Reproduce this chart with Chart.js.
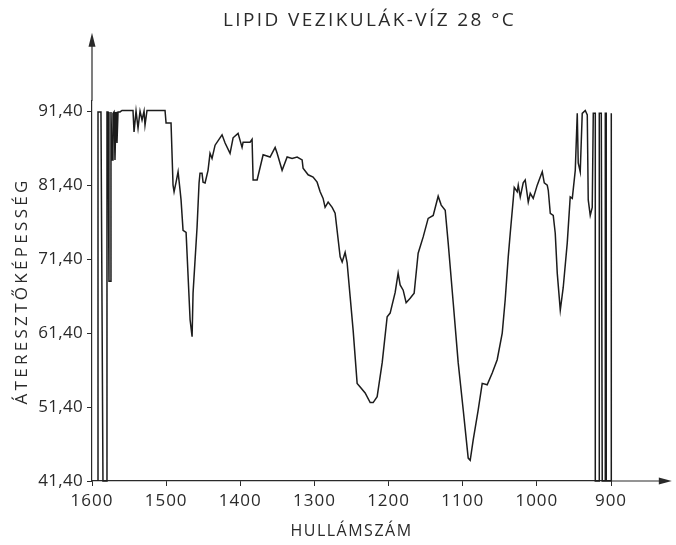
<!DOCTYPE html>
<html>
<head>
<meta charset="utf-8">
<script src="https://cdn.jsdelivr.net/npm/chart.js@4/dist/chart.umd.min.js"></script>
<style>
  html, body { margin: 0; padding: 0; background: #ffffff; }
  #wrap { width: 676px; height: 545px; position: relative; }
</style>
</head>
<body>
<div id="wrap"><canvas id="c"></canvas></div>
<script>
// ---- data ----
const wavenumber = [
  1591.9, 1591.9, 1587.9, 1585.2, 1581.1, 1579.8, 1578.4, 1577.1, 1575.7, 1574.4,
  1573.0, 1571.7, 1570.3, 1569.0, 1567.6, 1566.3, 1564.9, 1562.2, 1559.5, 1544.7,
  1543.3, 1540.6, 1537.9, 1535.2, 1532.5, 1529.8, 1528.5, 1525.8, 1501.5, 1500.1,
  1493.4, 1490.7, 1489.3, 1486.6, 1483.9, 1481.2, 1479.9, 1477.2, 1473.1, 1467.7,
  1465.0, 1463.7, 1458.3, 1455.6, 1454.3, 1451.6, 1450.2, 1447.5, 1443.5, 1440.8,
  1438.1, 1434.0, 1424.6, 1420.5, 1413.8, 1409.7, 1403.0, 1397.6, 1396.2, 1386.8,
  1384.1, 1382.7, 1377.3, 1369.2, 1359.8, 1353.0, 1350.3, 1343.6, 1336.8, 1330.1,
  1323.3, 1316.6, 1315.3, 1308.5, 1301.8, 1296.4, 1292.3, 1288.3, 1285.6, 1281.5,
  1276.1, 1272.1, 1265.3, 1262.6, 1258.6, 1255.9, 1251.8, 1247.8, 1242.4, 1238.3,
  1231.6, 1224.8, 1220.8, 1215.4, 1208.6, 1201.9, 1197.9, 1191.1, 1187.1, 1184.4,
  1180.3, 1176.3, 1170.9, 1165.5, 1164.1, 1160.1, 1153.3, 1146.6, 1139.8, 1133.1,
  1129.0, 1123.6, 1119.6, 1112.8, 1106.1, 1099.3, 1092.6, 1089.9, 1085.8, 1079.1,
  1073.7, 1067.0, 1060.2, 1053.5, 1046.7, 1042.7, 1038.6, 1035.9, 1031.9, 1030.5,
  1026.5, 1025.1, 1022.4, 1018.4, 1015.7, 1011.6, 1008.9, 1004.9, 999.5, 995.4,
  992.7, 990.0, 986.0, 984.6, 981.9, 977.9, 975.2, 972.5, 968.4, 964.4,
  959.0, 955.0, 952.2, 948.2, 945.5, 944.2, 941.5, 938.8, 934.7, 932.0,
  930.7, 928.0, 925.3, 923.9, 921.2, 921.2, 915.8, 915.8, 913.1, 911.8,
  907.7, 907.7, 906.4, 906.4, 899.6, 899.6
];
const transmittance = [
  41.4, 91.3, 91.3, 41.4, 41.4, 91.3, 91.3, 68.4, 68.4, 91.3,
  84.8, 91.1, 91.3, 84.8, 91.3, 87.1, 91.3, 91.3, 91.5, 91.5,
  88.6, 91.4, 89.1, 91.4, 90.2, 91.4, 89.5, 91.5, 91.5, 89.8,
  89.8, 81.4, 80.5, 81.8, 83.2, 80.7, 79.4, 75.3, 75.0, 63.2,
  60.9, 66.8, 75.7, 81.7, 83.0, 83.0, 81.8, 81.7, 83.4, 85.7,
  85.0, 86.8, 88.2, 87.1, 85.7, 87.8, 88.4, 86.5, 87.2, 87.2,
  87.6, 82.1, 82.1, 85.5, 85.2, 86.5, 85.7, 83.4, 85.2, 85.0,
  85.2, 84.8, 83.7, 82.8, 82.5, 81.8, 80.5, 79.6, 78.4, 79.1,
  78.4, 77.6, 71.7, 71.0, 72.3, 70.9, 66.3, 61.8, 54.6, 54.1,
  53.3, 52.0, 52.0, 52.8, 57.4, 63.6, 64.1, 66.9, 69.5, 67.9,
  67.2, 65.5, 66.1, 66.8, 68.2, 72.2, 74.4, 76.9, 77.3, 79.9,
  78.7, 78.0, 73.6, 65.5, 57.4, 51.0, 44.5, 44.2, 47.0, 51.0,
  54.6, 54.4, 56.0, 57.8, 61.4, 65.9, 71.7, 74.9, 79.4, 81.1,
  80.5, 81.4, 79.8, 81.7, 82.1, 79.1, 80.3, 79.6, 81.4, 82.5,
  83.2, 81.7, 81.4, 80.7, 77.6, 77.3, 74.9, 69.5, 64.5, 67.6,
  73.6, 79.8, 79.6, 83.4, 91.1, 84.4, 83.2, 91.1, 91.5, 90.9,
  79.4, 77.3, 78.4, 91.1, 91.1, 41.4, 41.4, 91.1, 91.1, 41.4,
  41.4, 91.1, 91.1, 41.4, 41.4, 91.1
];
const xTicks = [1600, 1500, 1400, 1300, 1200, 1100, 1000, 900];
const xTickLabels = ['1600', '1500', '1400', '1300', '1200', '1100', '1000', '900'];
const yTicks = [41.4, 51.4, 61.4, 71.4, 81.4, 91.4];
const yTickLabels = ['41,40', '51,40', '61,40', '71,40', '81,40', '91,40'];
const titleText = 'LIPID VEZIKULÁK-VÍZ 28 °C';
const xTitle = 'HULLÁMSZÁM';
const yTitle = 'ÁTERESZTŐKÉPESSÉG';
// axis ranges (arrow ends extend beyond the labelled range)
const xRange = [900, 1600];
const yRange = [41.4, 92.8];
const xArrowEnd = 818;
const yArrowEnd = 102;

// ---- styling ----
const ink = '#2a2a2a';
const fontFamily = "'Open Sans', 'DejaVu Sans', sans-serif";

const points = wavenumber.map((w, i) => ({ x: w, y: transmittance[i] }));

function withSpacing(obj, name, spacing) {
  if (!obj || !obj[name] || obj[name]._spaced) return;
  const orig = obj[name];
  const f = function (...args) {
    const c = this.ctx;
    const prev = c.letterSpacing;
    c.letterSpacing = spacing;
    const r = orig.apply(this, args);
    c.letterSpacing = prev || '0px';
    return r;
  };
  f._spaced = true;
  obj[name] = f;
}

const arrowPlugin = {
  id: 'axisArrows',
  beforeDraw(chart) {
    const ctx = chart.ctx;
    ctx.save();
    ctx.fillStyle = '#ffffff';
    ctx.fillRect(0, 0, chart.width, chart.height);
    ctx.restore();
  },
  afterLayout(chart) {
    if (chart.titleBlock) {
      chart.titleBlock.left += 18;
      chart.titleBlock.right += 18;
      withSpacing(chart.titleBlock, 'draw', '2.4px');
    }
    withSpacing(chart.scales.x, 'drawLabels', '1px');
    withSpacing(chart.scales.x, 'drawTitle', '1.5px');
    withSpacing(chart.scales.y, 'drawLabels', '0.3px');
    withSpacing(chart.scales.y, 'drawTitle', '3.3px');
  },
  afterDraw(chart) {
    const { ctx, chartArea, scales } = chart;
    const x0 = chartArea.left, y0 = chartArea.bottom;
    const yTop = scales.y.getPixelForValue(yArrowEnd);
    const xEnd = scales.x.getPixelForValue(xArrowEnd);
    ctx.save();
    ctx.strokeStyle = ink;
    ctx.fillStyle = ink;
    ctx.lineWidth = 1.2;
    ctx.beginPath();
    ctx.moveTo(x0, chartArea.top);
    ctx.lineTo(x0, yTop + 8);
    ctx.moveTo(chartArea.right, y0);
    ctx.lineTo(xEnd - 8, y0);
    ctx.stroke();
    ctx.beginPath();
    ctx.moveTo(x0, yTop);
    ctx.lineTo(x0 - 3.5, yTop + 14);
    ctx.lineTo(x0 + 3.5, yTop + 14);
    ctx.closePath();
    ctx.fill();
    ctx.beginPath();
    ctx.moveTo(xEnd, y0);
    ctx.lineTo(xEnd - 13, y0 - 3.5);
    ctx.lineTo(xEnd - 13, y0 + 3.5);
    ctx.closePath();
    ctx.fill();
    ctx.restore();
  }
};

new Chart(document.getElementById('c'), {
  type: 'scatter',
  data: {
    datasets: [{
      data: points,
      showLine: true,
      borderColor: '#1c1c1c',
      borderWidth: 1.5,
      pointRadius: 0,
      pointHoverRadius: 0,
      tension: 0,
      clip: false
    }]
  },
  options: {
    responsive: true,
    maintainAspectRatio: false,
    animation: false,
    events: [],
    layout: { padding: { left: 0, right: 65, top: 0, bottom: 0 } },
    plugins: {
      legend: { display: false },
      tooltip: { enabled: false },
      title: {
        display: true,
        text: titleText,
        fullSize: false,
        color: ink,
        font: { family: fontFamily, size: 19, weight: '400' },
        padding: { top: 9, bottom: 69 }
      }
    },
    scales: {
      x: {
        type: 'linear',
        reverse: true,
        min: xRange[0],
        max: xRange[1],
        afterBuildTicks: (s) => { s.ticks = xTicks.map(v => ({ value: v })); },
        afterFit: (s) => { s.height = 64; },
        ticks: {
          color: ink,
          font: { family: fontFamily, size: 17 },
          padding: 5,
          maxRotation: 0,
          autoSkip: false,
          callback: (v) => xTickLabels[xTicks.indexOf(v)]
        },
        grid: { display: true, drawOnChartArea: false, drawTicks: true, tickLength: 5, color: ink, lineWidth: 1 },
        border: { display: true, color: ink, width: 1.2 },
        title: {
          display: true,
          text: xTitle,
          color: ink,
          font: { family: fontFamily, size: 16 },
          padding: { top: 0, bottom: 4 }
        }
      },
      y: {
        type: 'linear',
        min: yRange[0],
        max: yRange[1],
        afterBuildTicks: (s) => { s.ticks = yTicks.map(v => ({ value: v })); },
        afterFit: (s) => { s.width = 92; },
        ticks: {
          color: ink,
          font: { family: fontFamily, size: 17 },
          padding: 4,
          autoSkip: false,
          callback: (v) => yTickLabels[yTicks.indexOf(v)]
        },
        grid: { display: true, drawOnChartArea: false, drawTicks: true, tickLength: 5, color: ink, lineWidth: 1 },
        border: { display: true, color: ink, width: 1.2 },
        title: {
          display: true,
          text: yTitle,
          color: ink,
          font: { family: fontFamily, size: 17 },
          padding: { top: 12, bottom: 0 }
        }
      }
    }
  },
  plugins: [arrowPlugin]
});
</script>
</body>
</html>
